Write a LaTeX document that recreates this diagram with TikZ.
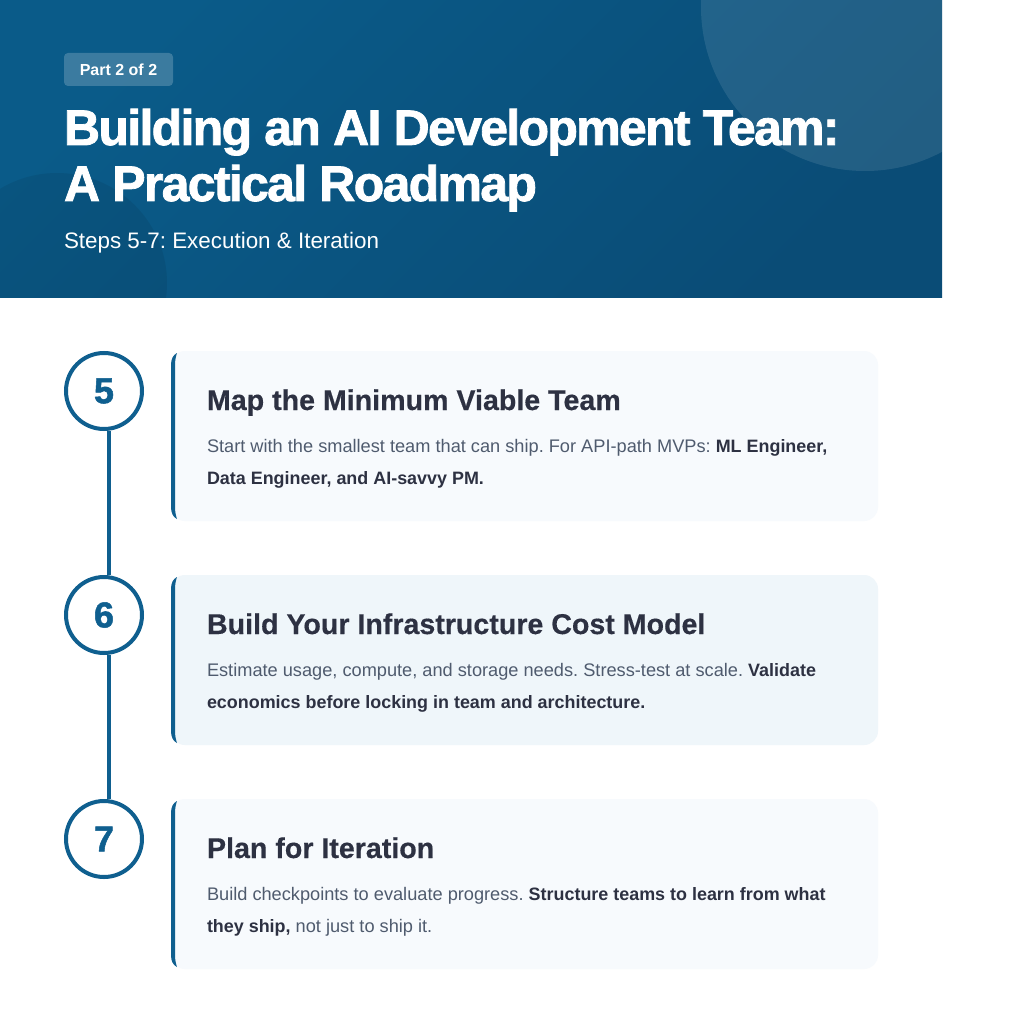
\documentclass[tikz,border=0pt]{standalone}
\usepackage{fontspec}
\setmainfont{Liberation Sans}
\newfontfamily\titlefont[LetterSpace=-3.4,FakeBold=1.6]{Liberation Sans Bold}
\newfontfamily\numfont[FakeBold=1.4]{Liberation Sans Bold}
\newfontfamily\headfont[FakeBold=.4]{Liberation Sans Bold}
\newfontfamily\strongfont[Scale=.985]{Liberation Sans Bold}
\frenchspacing
\definecolor{headtop}{HTML}{0A5B89}
\definecolor{headbot}{HTML}{0A4C76}
\definecolor{stepblue}{HTML}{0F5F8F}
\definecolor{inkdark}{HTML}{2D3142}
\definecolor{inkbody}{HTML}{4F5B6E}
\definecolor{cardlight}{HTML}{F7FAFD}
\definecolor{cardmid}{HTML}{EFF6FA}
\tikzset{
  textline/.style={anchor=base west, inner sep=0pt, outer sep=0pt},
  titleline/.style={textline, text=white, font=\fontsize{50}{50}\selectfont\titlefont},
  cardhead/.style={textline, text=inkdark, font=\fontsize{28.6}{30}\selectfont\headfont},
  cardbody/.style={textline, text=inkbody, font=\fontsize{18.2}{20}\selectfont},
  cardbox/.style={rounded corners=14pt, minimum width=707pt, minimum height=170pt, inner sep=0pt, outer sep=0pt},
  stepcirc/.style={draw=stepblue, line width=4pt, circle, fill=white, minimum size=76pt, inner sep=0pt,
    text=stepblue, font=\fontsize{36}{36}\selectfont\numfont},
  stepline/.style={draw=stepblue, line width=4pt},
  cardedge/.style={fill=stepblue},
}
\begin{document}
\begin{tikzpicture}[x=1pt,y=-1pt]
\useasboundingbox[fill=white] (0,0) rectangle (1024,1024);

% header band
\shade[top color=headtop, bottom color=headbot, shading angle=45] (0,0) rectangle (942,297);
\begin{scope}
\clip (0,0) rectangle (942,297);
\fill[white, opacity=.10] (865,7) circle (164);
\fill[black, opacity=.07] (57,283) circle (110);
\end{scope}

\node (badge) at (118.5,69.5) [fill=white, fill opacity=.2, text opacity=1, text=white, rounded corners=4pt,
  minimum width=109pt, minimum height=33pt, inner sep=0pt, font=\fontsize{16}{16}\selectfont\bfseries] {\raisebox{-1.5pt}{Part 2 of 2}};
\node (title1) at (64,145) [titleline] {Building an AI Development Team:};
\node (title2) at (64,201) [titleline] {A Practical Roadmap};
\node (sub) at (64,248) [textline, text=white, font=\fontsize{22.4}{22}\selectfont] {Steps 5-7: Execution \& Iteration};

% cards
\node (card5) at (524.5,436) [cardbox, fill=cardlight] {};
\node (card6) at (524.5,660) [cardbox, fill=cardmid] {};
\node (card7) at (524.5,884) [cardbox, fill=cardlight] {};

\fill[cardedge] (177,353) .. controls (173,355) and (171,359) .. (171,365) -- (171,507) .. controls (171,513) and (173,517) .. (177,519)
  .. controls (176,516) and (175,512) .. (175,507) -- (175,365) .. controls (175,360) and (176,356) .. (177,353);
\fill[cardedge] (177,577) .. controls (173,579) and (171,583) .. (171,589) -- (171,731) .. controls (171,737) and (173,741) .. (177,743)
  .. controls (176,740) and (175,736) .. (175,731) -- (175,589) .. controls (175,584) and (176,580) .. (177,577);
\fill[cardedge] (177,801) .. controls (173,803) and (171,807) .. (171,813) -- (171,955) .. controls (171,961) and (173,965) .. (177,967)
  .. controls (176,964) and (175,960) .. (175,955) -- (175,813) .. controls (175,808) and (176,804) .. (177,801);

% steps
\node (5) at (104,391) [stepcirc] {\raisebox{-1.5pt}{5}};
\node (6) at (104,615) [stepcirc] {\raisebox{-1.5pt}{6}};
\node (7) at (104,839) [stepcirc] {\raisebox{-1.5pt}{7}};
\draw[stepline]
([xshift=4.7pt]5.south) to ([xshift=4.7pt]6.north)
([xshift=4.7pt]6.south) to ([xshift=4.7pt]7.north);

% card texts
\node (head5) at (207,410) [cardhead] {Map the Minimum Viable Team};
\node (body5a) at (207,452.5) [cardbody] {Start with the smallest team that can ship. For API-path MVPs: \textcolor{inkdark}{\strongfont ML Engineer,}};
\node (body5b) at (207,484.5) [cardbody, text=inkdark] {\strongfont Data Engineer, and AI-savvy PM.};

\node (head6) at (207,634) [cardhead] {Build Your Infrastructure Cost Model};
\node (body6a) at (207,676.5) [cardbody] {Estimate usage, compute, and storage needs. Stress-test at scale. \textcolor{inkdark}{\strongfont Validate}};
\node (body6b) at (207,708.5) [cardbody, text=inkdark] {\strongfont economics before locking in team and architecture.};

\node (head7) at (207,858) [cardhead] {Plan for Iteration};
\node (body7a) at (207,900.5) [cardbody] {Build checkpoints to evaluate progress. \textcolor{inkdark}{\strongfont Structure teams to learn from what}};
\node (body7b) at (207,932.5) [cardbody] {\textcolor{inkdark}{\strongfont they ship,} not just to ship it.};
\end{tikzpicture}
\end{document}
